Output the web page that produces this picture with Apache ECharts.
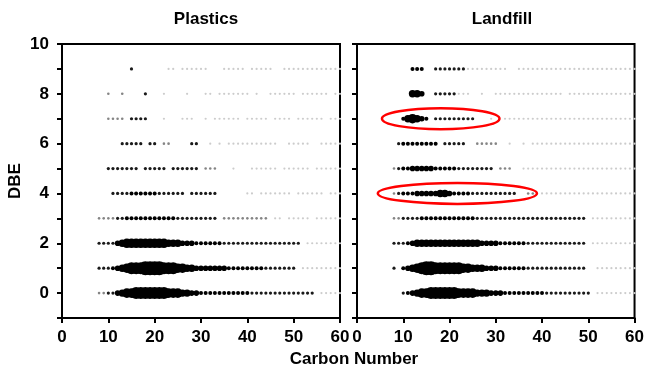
<!DOCTYPE html>
<html>
<head>
<meta charset="utf-8">
<script src="https://cdn.jsdelivr.net/npm/echarts@6/dist/echarts.min.js"></script>
<style>html,body{margin:0;padding:0;background:#fff}#c{width:647px;height:370px}</style>
</head>
<body>
<div id="c"></div>
<script>
// Carbon numbers 0..60 (one digit per carbon number, grouped by tens), one row per DBE 0..9
// Digit = relative abundance level (0 = absent, 9 = most abundant)
const carbonNumbers = Array.from({length: 61}, (_, i) => i);
const dbeValues = [0,1,2,3,4,5,6,7,8,9];
const xTicks = [0,10,20,30,40,50,60];
const yTickLabels = [0,2,4,6,8,10];
const panelTitles = ['Plastics', 'Landfill'];

const plasticsRows = [
  "0000000022 3356778888 8887776655 4444444444 4333333333 3333301111 1",
  "0000000033 3456788899 9988877665 5555554444 4444333333 3011111111 1",
  "0000000033 3356777777 7776665554 4444433333 3333333333 3301111111 1",
  "0000000022 2233444444 4444433333 3333022222 2222201101 1111011111 1",
  "0000000000 0333344444 4333333033 3333000000 1101111111 0111111011 1",
  "0000000000 3333333033 3330333333 0222000100 0111111011 1111011111 1",
  "0000000000 0003333303 3022000033 0010101111 1111111001 1111001111 1",
  "0000000000 2222033330 0010001110 0101111110 1111101111 0111111011 1",
  "0000000000 2002000030 0010000100 0110111111 1010011111 1011111101 1",
  "0000000000 0000030000 0001101111 1100011111 0111110011 1111111111 1"
];
const landfillRows = [
  "0000000000 3456778888 8877776665 5544444444 4333333333 3011111111 1",
  "0000000030 4567899888 8887766655 5444444333 3333333333 0011111111 1",
  "0000000033 3456666666 6666666555 5444444333 3333333333 0111111111 1",
  "0000000022 3333444444 4444443333 3333333333 3333333333 0111111111 1",
  "0000000023 4445555566 5444433333 3333300220 1111111111 1111111111 1",
  "0000000023 4455555444 4433333333 0222001111 1111111111 1111111111 1",
  "0000000003 4444444403 3333002222 2001001011 1111111111 1111111111 1",
  "0000000000 4676540333 3333330001 0011111111 1111111111 1111111111 1",
  "0000000000 0066500333 3311100100 1111111111 1111101111 1111111111 1",
  "0000000000 0044400333 3333111111 1110011111 1111111111 1111111111 1"
];
// highlighted regions on Landfill panel: [centre C, centre DBE, half-width C, half-height DBE]
const landfillHighlights = [
  [18.1, 7, 12.7, 0.42],
  [21.7, 4, 17.2, 0.42]
];

const levelSize = [0, 2.2, 2.6, 3.2, 4, 5.6, 7.4, 9.6, 12, 14];
const levelColor = ['#fff', '#cccccc', '#858585', '#1a1a1a', '#000', '#000', '#000', '#000', '#000', '#000'];

function toPoints(rows) {
  const pts = [];
  rows.forEach((s, d) => {
    const lv = s.replace(/ /g, '').split('').map(Number);
    lv.forEach((v, c) => { if (v > 0) pts.push([carbonNumbers[c], dbeValues[d], v]); });
  });
  return pts;
}

const FONT = "'Liberation Sans',Arial,sans-serif";
const grids = [
  {left: 62, top: 44, width: 278, height: 274},
  {left: 357, top: 44, width: 279, height: 274}
];

function xAxisFor(i) {
  return {
    gridIndex: i, type: 'value', min: 0, max: 60, interval: 10,
    axisLine: {onZero: false, lineStyle: {color: '#000', width: 2}},
    axisTick: {length: 5, lineStyle: {color: '#000', width: 2}},
    axisLabel: {color: '#000', fontWeight: 'bold', fontSize: 17, fontFamily: FONT, margin: 11,
      formatter: v => xTicks.includes(v) ? String(v) : ''},
    splitLine: {show: false}
  };
}
function yAxisFor(i) {
  return {
    gridIndex: i, type: 'value', min: -1, max: 10, interval: 1,
    name: i === 0 ? 'DBE' : '', nameLocation: 'middle', nameGap: 38, nameRotate: 90,
    nameTextStyle: {color: '#000', fontWeight: 'bold', fontSize: 17, fontFamily: FONT},
    axisLine: {onZero: false, lineStyle: {color: '#000', width: 2}},
    axisTick: {length: 5, lineStyle: {color: '#000', width: 2}},
    axisLabel: {show: i === 0, color: '#000', fontWeight: 'bold', fontSize: 17, fontFamily: FONT, margin: 13,
      formatter: v => yTickLabels.includes(v) ? String(v) : ''},
    splitLine: {show: false}
  };
}

function scatterFor(i, rows) {
  return {
    type: 'scatter', xAxisIndex: i, yAxisIndex: i, data: toPoints(rows),
    symbol: 'circle',
    symbolSize: d => levelSize[d[2]],
    itemStyle: {color: p => levelColor[p.data[2]], opacity: 1},
    silent: true
  };
}

const chart = echarts.init(document.getElementById('c'), null, {renderer: 'canvas'});
chart.setOption({
  animation: false,
  backgroundColor: '#fff',
  title: [
    {text: panelTitles[0], left: 201, top: 6, textAlign: 'center',
     textStyle: {color: '#000', fontWeight: 'bold', fontSize: 17, fontFamily: FONT}},
    {text: panelTitles[1], left: 497, top: 6, textAlign: 'center',
     textStyle: {color: '#000', fontWeight: 'bold', fontSize: 17, fontFamily: FONT}},
    {text: 'Carbon Number', left: 349, top: 346, textAlign: 'center',
     textStyle: {color: '#000', fontWeight: 'bold', fontSize: 17, fontFamily: FONT}}
  ],
  grid: grids.map(g => Object.assign({show: true, borderColor: '#000', borderWidth: 2, backgroundColor: 'transparent'}, g)),
  xAxis: [xAxisFor(0), xAxisFor(1)],
  yAxis: [yAxisFor(0), yAxisFor(1)],
  series: [
    scatterFor(0, plasticsRows),
    scatterFor(1, landfillRows),
    {
      type: 'custom', xAxisIndex: 1, yAxisIndex: 1, data: landfillHighlights, silent: true, z: 10,
      renderItem: (params, api) => {
        const c = api.coord([api.value(0), api.value(1)]);
        const e = api.coord([api.value(0) + api.value(2), api.value(1) + api.value(3)]);
        return {type: 'ellipse', shape: {cx: c[0], cy: c[1], rx: e[0] - c[0], ry: c[1] - e[1]},
          style: {fill: 'none', stroke: '#ff0000', lineWidth: 2.5}};
      }
    }
  ]
});
</script>
</body>
</html>
